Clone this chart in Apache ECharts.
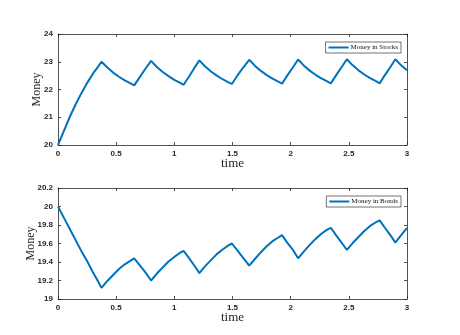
<!DOCTYPE html>
<html>
<head>
<meta charset="utf-8">
<script src="https://cdn.jsdelivr.net/npm/echarts@6/dist/echarts.min.js"></script>
<style>
  html, body { margin: 0; padding: 0; background: #fff; }
  #chart { width: 460px; height: 335px; }
</style>
</head>
<body>
<div id="chart"></div>
<script>
// time samples (shared by both panels)
const time = [
  0, 0.05, 0.1, 0.15, 0.2, 0.25, 0.3, 0.34, 0.374,
  0.424, 0.474, 0.524, 0.574, 0.624, 0.655,
  0.70, 0.75, 0.80,
  0.85, 0.90, 0.95, 1.0, 1.05, 1.08,
  1.125, 1.17, 1.215,
  1.265, 1.315, 1.365, 1.415, 1.465, 1.495,
  1.545, 1.595, 1.644,
  1.694, 1.744, 1.794, 1.844, 1.894, 1.926,
  1.97, 2.02, 2.064,
  2.114, 2.164, 2.214, 2.264, 2.314, 2.345,
  2.39, 2.44, 2.483,
  2.533, 2.583, 2.633, 2.683, 2.733, 2.765,
  2.81, 2.86, 2.90,
  2.95, 3.0
];

const stocks = [
  20, 20.5, 21.0, 21.45, 21.86, 22.23, 22.57, 22.8, 23.0,
  22.79, 22.61, 22.46, 22.33, 22.22, 22.15,
  22.43, 22.74, 23.03,
  22.81, 22.63, 22.48, 22.35, 22.24, 22.17,
  22.46, 22.76, 23.05,
  22.83, 22.65, 22.5, 22.37, 22.26, 22.2,
  22.52, 22.81, 23.07,
  22.85, 22.67, 22.52, 22.39, 22.28, 22.21,
  22.5, 22.8, 23.08,
  22.86, 22.68, 22.53, 22.4, 22.29, 22.22,
  22.51, 22.82, 23.09,
  22.87, 22.69, 22.54, 22.41, 22.3, 22.22,
  22.52, 22.83, 23.09,
  22.87, 22.69
];

const bonds = [
  20, 19.88, 19.76, 19.64, 19.52, 19.41, 19.29, 19.2, 19.12,
  19.195, 19.26, 19.325, 19.375, 19.415, 19.44,
  19.37, 19.29, 19.20,
  19.275, 19.34, 19.405, 19.455, 19.50, 19.52,
  19.445, 19.365, 19.28,
  19.355, 19.42, 19.485, 19.535, 19.58, 19.60,
  19.52, 19.44, 19.36,
  19.435, 19.505, 19.57, 19.625, 19.665, 19.69,
  19.61, 19.53, 19.44,
  19.515, 19.585, 19.65, 19.705, 19.75, 19.77,
  19.69, 19.605, 19.53,
  19.605, 19.67, 19.735, 19.79, 19.83, 19.85,
  19.77, 19.685, 19.61,
  19.69, 19.77
];

const seriesNames = ['Money in Stocks', 'Money in Bonds'];

const axisColor = '#262626';
const lineBlue = '#0072BD';
const serif = '"Liberation Serif", "DejaVu Serif", serif';
const sans = '"Liberation Sans", Arial, sans-serif';

function pairs(ys) {
  return time.map((t, i) => [t, ys[i]]);
}

function xAx(gridIndex, pos, main) {
  return {
    type: 'value', gridIndex: gridIndex, position: pos,
    min: 0, max: 3, interval: 0.5,
    name: main ? 'time' : '', nameLocation: 'middle', nameGap: 12,
    nameMoveOverlap: false,
    nameTextStyle: { fontFamily: serif, fontSize: 13, color: axisColor },
    axisLine: { show: true, onZero: false, lineStyle: { color: axisColor, width: 0.8 } },
    axisTick: { show: true, inside: true, length: 3, lineStyle: { color: axisColor, width: 0.8 } },
    axisLabel: { show: main, margin: 5, fontFamily: sans, fontWeight: 'bold', fontSize: 8, color: axisColor },
    splitLine: { show: false }
  };
}

function yAx(gridIndex, pos, main, min, max, step, gap) {
  return {
    type: 'value', gridIndex: gridIndex, position: pos,
    min: min, max: max, interval: step,
    name: main ? 'Money' : '', nameLocation: 'middle', nameGap: gap,
    nameMoveOverlap: false,
    nameTextStyle: { fontFamily: serif, fontSize: 12, color: axisColor },
    axisLine: { show: true, onZero: false, lineStyle: { color: axisColor, width: 0.8 } },
    axisTick: { show: true, inside: true, length: 3, lineStyle: { color: axisColor, width: 0.8 } },
    axisLabel: { show: main, margin: 5, fontFamily: sans, fontWeight: 'bold', fontSize: 8, color: axisColor },
    splitLine: { show: false }
  };
}

function legendFor(name, top) {
  return {
    data: [name], right: 59, top: top,
    orient: 'vertical', icon: 'rect', itemWidth: 20, itemHeight: 2, itemGap: 0,
    padding: [2, 3, 2, 3], borderColor: '#333', borderWidth: 0.7,
    textStyle: { fontFamily: serif, fontSize: 7, color: '#111', padding: [0, 0, 0, -3] }
  };
}

const myChart = echarts.init(document.getElementById('chart'));

const option = {
  animation: false,
  backgroundColor: '#fff',
  grid: [
    { left: 58, right: 53, top: 34, height: 111 },
    { left: 58, right: 53, top: 188, height: 111 }
  ],
  xAxis: [
    xAx(0, 'bottom', true), xAx(0, 'top', false),
    xAx(1, 'bottom', true), xAx(1, 'top', false)
  ],
  yAxis: [
    yAx(0, 'left', true, 20, 24, 1, 15), yAx(0, 'right', false, 20, 24, 1, 0),
    yAx(1, 'left', true, 19, 20.2, 0.2, 21), yAx(1, 'right', false, 19, 20.2, 0.2, 0)
  ],
  legend: [legendFor(seriesNames[0], 42), legendFor(seriesNames[1], 196)],
  series: [
    {
      name: seriesNames[0], type: 'line', xAxisIndex: 0, yAxisIndex: 0,
      data: pairs(stocks), symbol: 'none', showSymbol: false,
      lineStyle: { color: lineBlue, width: 2 }, itemStyle: { color: lineBlue }
    },
    {
      name: seriesNames[1], type: 'line', xAxisIndex: 2, yAxisIndex: 2,
      data: pairs(bonds), symbol: 'none', showSymbol: false,
      lineStyle: { color: lineBlue, width: 2 }, itemStyle: { color: lineBlue }
    }
  ]
};

myChart.setOption(option);
</script>
</body>
</html>
